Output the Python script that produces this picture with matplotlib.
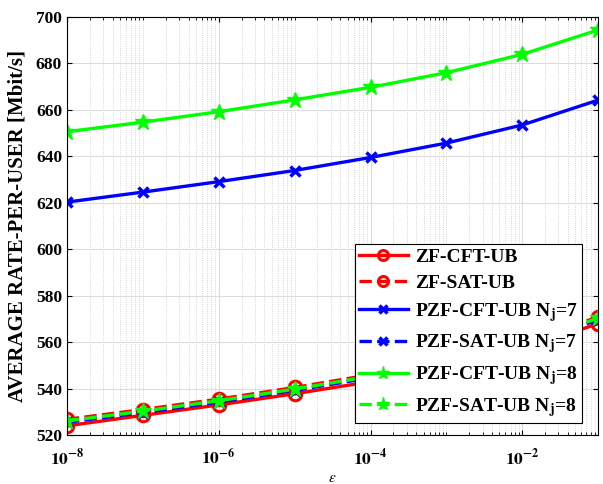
import numpy as np
import matplotlib.pyplot as plt
from matplotlib.ticker import LogLocator, NullFormatter, MultipleLocator

plt.rcParams['font.family'] = ['Liberation Serif', 'DejaVu Serif']
plt.rcParams['mathtext.fontset'] = 'stix'

# epsilon values (one point per decade)
eps = [1e-8, 1e-7, 1e-6, 1e-5, 1e-4, 1e-3, 1e-2, 1e-1]

# average rate per user [Mbit/s]
zf_cft = [524.0, 528.5, 533.0, 537.8, 543.0, 549.3, 557.0, 568.0]
zf_sat = [526.8, 531.0, 535.5, 540.5, 546.0, 552.3, 560.0, 570.8]
pzf_cft_7 = [620.3, 624.6, 629.1, 633.9, 639.5, 645.7, 653.5, 664.2]
pzf_sat_7 = [525.5, 529.7, 534.2, 539.2, 544.7, 551.0, 558.7, 569.6]
pzf_cft_8 = [650.6, 654.7, 659.2, 664.3, 669.7, 676.0, 683.9, 694.4]
pzf_sat_8 = [526.1, 530.3, 534.8, 539.8, 545.3, 551.6, 559.3, 570.3]

xtick_vals = [1e-8, 1e-6, 1e-4, 1e-2]
xtick_labels = [r'$\mathbf{10^{-8}}$', r'$\mathbf{10^{-6}}$', r'$\mathbf{10^{-4}}$', r'$\mathbf{10^{-2}}$']

fig = plt.figure(figsize=(6.03, 4.84), dpi=100)
ax = fig.add_axes([0.111, 0.101, 0.881, 0.864])

lw = 2.4
ax.plot(eps, zf_cft, '-', color='red', lw=lw, marker='o', ms=9, mfc='none', mew=2.2, label='ZF-CFT-UB')
ax.plot(eps, zf_sat, '--', color='red', lw=lw, marker='o', ms=9, mfc='none', mew=2.2, label='ZF-SAT-UB')
ax.plot(eps, pzf_cft_7, '-', color='blue', lw=lw, marker='x', ms=7, mew=2.5, label='PZF-CFT-UB N$_\\mathbf{j}$=7')
ax.plot(eps, pzf_sat_7, '--', color='blue', lw=lw, marker='x', ms=7, mew=2.5, label='PZF-SAT-UB N$_\\mathbf{j}$=7')
ax.plot(eps, pzf_cft_8, '-', color='#00ff00', lw=lw, marker='*', ms=12, label='PZF-CFT-UB N$_\\mathbf{j}$=8')
ax.plot(eps, pzf_sat_8, '--', color='#00ff00', lw=lw, marker='*', ms=12, label='PZF-SAT-UB N$_\\mathbf{j}$=8')

ax.set_xscale('log')
ax.set_xlim(1e-8, 1e-1)
ax.set_ylim(520, 700)
ax.yaxis.set_major_locator(MultipleLocator(20))
ax.set_xticks(xtick_vals)
ax.set_xticklabels(xtick_labels)
ax.xaxis.set_minor_locator(LogLocator(base=10, subs=np.arange(1, 10), numticks=20))
ax.xaxis.set_minor_formatter(NullFormatter())

ax.grid(True, which='major', color='#dcdcdc', lw=0.8)
ax.grid(True, which='minor', axis='x', color='#c8c8c8', lw=0.6, ls=':')
ax.set_axisbelow(True)

ax.tick_params(which='both', direction='in', top=True, right=True, labelsize=12.5)
ax.tick_params(axis='x', which='major', pad=9, labelsize=12.5)
for lab in ax.get_yticklabels():
    lab.set_fontweight('bold')

ax.set_xlabel('$\\epsilon$', fontsize=11, labelpad=3)
ax.set_ylabel('AVERAGE RATE-PER-USER [Mbit/s]', fontsize=15, fontweight='bold', labelpad=6)

leg = ax.legend(loc='lower right', bbox_to_anchor=(0.97, 0.03), fancybox=False,
                edgecolor='black', framealpha=1, handlelength=2.5, markerscale=0.8,
                prop={'weight': 'bold', 'size': 14}, borderpad=0.2, labelspacing=0.45,
                handletextpad=0.4, borderaxespad=0)
leg.get_frame().set_linewidth(0.8)

fig.savefig('out.png', dpi=100)
